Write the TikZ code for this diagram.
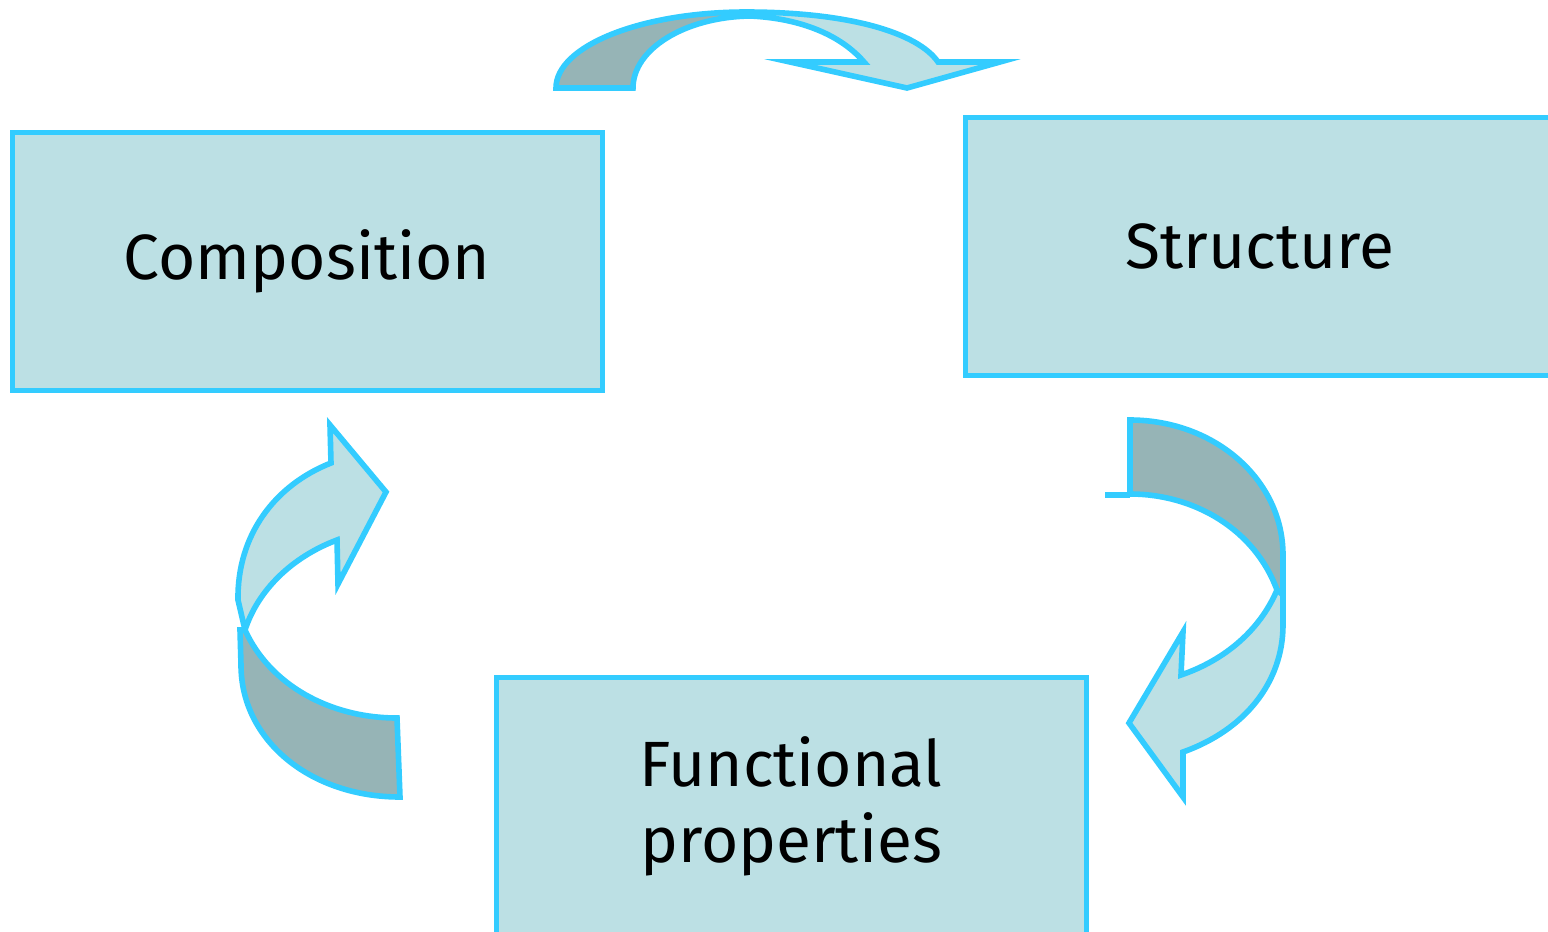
\documentclass[tikz,border=0pt]{standalone}
\usepackage{fontspec}
\setmainfont{Fira Sans}
\definecolor{edgeblue}{HTML}{33CCFF}
\definecolor{lightteal}{HTML}{BCE0E4}
\definecolor{darkteal}{HTML}{96B4B6}
\tikzset{bx/.style = {rectangle, draw=edgeblue, fill=lightteal, line width=2.5pt,
                      minimum width=295pt, minimum height=129pt, align=center,
                      font=\fontsize{32}{38}\selectfont},
         front/.style = {draw=edgeblue, fill=lightteal, line width=2.8pt},
         back/.style = {draw=edgeblue, fill=darkteal, line width=2.8pt}}

\begin{document}
\begin{tikzpicture}[x=0.5pt, y=-0.5pt]
    \useasboundingbox (0,0) rectangle (1548,932);
    \node[bx] (comp) at (307,261) {Composition};
    \node[bx] (struc) at (1260,246) {Structure};
    \node[bx] (func) at (791,806) {Functional\\properties};
    % top arrow
    \draw[back] (556,88) .. controls (556,46) and (641,12) .. (746,12)
        -- (750,16) .. controls (685,17) and (633,49) .. (633,88) -- cycle;
    \draw[front] (746,12) .. controls (850,12) and (918,33) .. (938,62)
        -- (1000,62) -- (907,88) -- (790,62) -- (864,62)
        .. controls (838,32) and (795,18) .. (750,16) -- cycle;
    % right arrow
    \draw[back] (1130,420) .. controls (1215,420) and (1283,480) .. (1283,555)
        -- (1283,595) -- (1277,590) .. controls (1255,530) and (1195,494) .. (1130,494) -- cycle;
    \draw[edgeblue, line width=2.8pt] (1105,495) -- (1130,495);
    \draw[front] (1277,590) .. controls (1260,630) and (1225,660) .. (1181,675)
        -- (1183,632) -- (1129,723) -- (1183,797) -- (1183,752)
        .. controls (1245,730) and (1283,682) .. (1283,625) -- (1283,595) -- cycle;
    % left arrow
    \draw[front] (331,463) -- (330,425) -- (386,492) -- (338,584) -- (337,540)
        .. controls (292,557) and (258,590) .. (245,630) -- (238,600)
        .. controls (237,535) and (275,485) .. (331,463) -- cycle;
    \draw[back] (245,630) .. controls (270,685) and (330,718) .. (397,718)
        -- (400,797) .. controls (310,797) and (241,740) .. (241,665) -- (240,630) -- cycle;
\end{tikzpicture}
\end{document}
